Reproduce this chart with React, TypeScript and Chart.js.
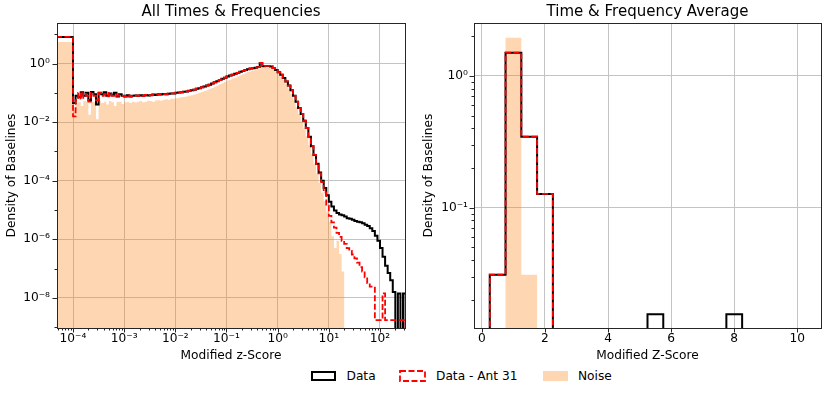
import React, { useEffect, useRef } from "react";
import { Chart, registerables } from "chart.js";

Chart.register(...registerables);

const FONT_FAMILY = "'DejaVu Sans', 'Noto Sans', sans-serif";
const BLACK = "#000000";
const RED = "#ff0000";
const NOISE_FILL = "rgba(255, 127, 14, 0.32)";
const GRID_COLOR = "#c4c4c4";
const SPINE_COLOR = "#262626";

const SERIES_NAMES = ["Data", "Data - Ant 31", "Noise"];
const LEFT_TITLE = "All Times & Frequencies";
const RIGHT_TITLE = "Time & Frequency Average";
const LEFT_X_LABEL = "Modified z-Score";
const RIGHT_X_LABEL = "Modified Z-Score";
const Y_LABEL = "Density of Baselines";

// ---------- Left panel: log-spaced histogram bins ----------
// first (wide) bin from 10^-4.5 to 10^-4, then bins of 0.05 decades from 10^-4 to 10^2.5
const LEFT_FIRST_EDGE_EXP = -4.5;
const LEFT_BIN_START_EXP = -4.0;
const LEFT_BIN_STEP_EXP = 0.05;
const LEFT_BIN_COUNT = 130;

// values are log10(density); null = empty bin
const leftDataLog10: (number | null)[] = [
  0.91,
  -1.35, -1.1, -1.15, -0.98, -1.1, -1.0, -1.25, -0.97, -1.05, -1.4,
  -1.0, -1.05, -0.98, -1.1, -1.02, -1.08, -1.0, -1.12, -1.05, -1.1,
  -1.12, -1.08, -1.12, -1.1, -1.09, -1.1, -1.08, -1.1, -1.07, -1.09,
  -1.08, -1.06, -1.07, -1.05, -1.06, -1.04, -1.05, -1.03, -1.02, -1.02,
  -1.0, -0.99, -0.98, -0.96, -0.95, -0.93, -0.91, -0.89, -0.86, -0.84,
  -0.81, -0.78, -0.75, -0.72, -0.68, -0.64, -0.6, -0.56, -0.52, -0.48,
  -0.44, -0.41, -0.38, -0.35, -0.32, -0.28, -0.25, -0.22, -0.19, -0.17,
  -0.16, -0.14, -0.12, 0.02, -0.09, -0.08, -0.08, -0.1, -0.15, -0.22,
  -0.3, -0.38, -0.49, -0.61, -0.75, -0.91, -1.1, -1.3, -1.52, -1.72,
  -1.95, -2.2, -2.5, -2.82, -3.12, -3.42, -3.72, -4.0, -4.25, -4.5,
  -4.72, -4.88, -5.02, -5.1, -5.15, -5.18, -5.22, -5.28, -5.3, -5.33,
  -5.38, -5.4, -5.42, -5.45, -5.5, -5.55, -5.62, -5.72, -5.88, -6.05,
  -6.3, -6.6, -6.9, -7.15, -7.4, -7.8, null, -7.85, null, -7.85,
];

const leftAntLog10: (number | null)[] = [
  0.91,
  -1.8, -1.25, -1.0, -1.2, -1.0, -1.1, -1.3, -1.0, -1.1, -1.25,
  -1.0, -1.1, -1.05, -1.12, -1.0, -1.1, -1.05, -1.1, -1.08, -1.1,
  -1.12, -1.08, -1.12, -1.1, -1.09, -1.1, -1.08, -1.1, -1.07, -1.09,
  -1.08, -1.06, -1.07, -1.05, -1.06, -1.04, -1.05, -1.03, -1.02, -1.02,
  -1.0, -0.99, -0.98, -0.96, -0.95, -0.93, -0.91, -0.89, -0.86, -0.84,
  -0.81, -0.78, -0.75, -0.72, -0.68, -0.64, -0.6, -0.56, -0.52, -0.48,
  -0.44, -0.41, -0.38, -0.35, -0.32, -0.28, -0.25, -0.22, -0.19, -0.17,
  -0.16, -0.14, -0.12, 0.02, -0.09, -0.08, -0.08, -0.1, -0.15, -0.22,
  -0.3, -0.38, -0.49, -0.61, -0.75, -0.91, -1.1, -1.3, -1.52, -1.72,
  -1.95, -2.2, -2.5, -2.82, -3.12, -3.42, -3.75, -4.05, -4.4, -4.85,
  -5.2, -5.42, -5.6, -5.78, -5.92, -6.05, -6.16, -6.3, -6.4, -6.52,
  -6.65, -6.8, -6.95, -7.1, -7.3, -7.5, -7.62, -7.62, -8.76, -8.76,
  -8.76, -7.85, -8.76, -8.76, -8.76, -8.76, -8.76, -8.76, -8.76, -8.76,
];

const leftNoiseLog10: (number | null)[] = [
  0.74,
  -1.6, -1.35, -1.3, -1.45, -1.28, -1.3, -1.75, -1.3, -1.32, -1.9,
  -1.28, -1.35, -1.3, -1.4, -1.28, -1.32, -1.45, -1.3, -1.3, -1.38,
  -1.32, -1.3, -1.35, -1.3, -1.33, -1.3, -1.28, -1.32, -1.3, -1.27,
  -1.28, -1.3, -1.26, -1.25, -1.27, -1.24, -1.22, -1.24, -1.2, -1.2,
  -1.18, -1.17, -1.15, -1.14, -1.12, -1.1, -1.08, -1.06, -1.03, -1.0,
  -0.97, -0.94, -0.91, -0.87, -0.83, -0.79, -0.75, -0.71, -0.67, -0.63,
  -0.58, -0.55, -0.51, -0.48, -0.44, -0.4, -0.36, -0.33, -0.29, -0.26,
  -0.24, -0.21, -0.19, -0.16, -0.14, -0.13, -0.13, -0.15, -0.2, -0.27,
  -0.36, -0.45, -0.57, -0.7, -0.86, -1.04, -1.25, -1.48, -1.72, -1.96,
  -2.22, -2.48, -2.78, -3.1, -3.42, -3.75, -4.08, -4.4, -4.7, -5.05,
  -5.4, -5.9, -6.3, -6.05, -6.5, -7.1, null, null, null, null,
  null, null, null, null, null, null, null, null, null, null,
  null, null, null, null, null, null, null, null, null, null,
];

// axis ranges (left)
const LEFT_X_MIN_EXP = -4.313;
const LEFT_X_MAX_EXP = 2.489;
const LEFT_Y_MIN_EXP = -9.03;
const LEFT_Y_MAX_EXP = 1.386;
const leftXMajorExps = [-4, -3, -2, -1, 0, 1, 2];
const leftYMajorExps = [0, -2, -4, -6, -8];
const leftYMinorExps = [1, -1, -3, -5, -7, -9];

// ---------- Right panel: linear bins of width 0.5 ----------
const rightBinCenters = [0.5, 1.0, 1.5, 2.0, 2.5, 3.0, 3.5, 4.0, 4.5, 5.0, 5.5, 6.0, 6.5, 7.0, 7.5, 8.0, 8.5, 9.0, 9.5, 10.0];
const RIGHT_BIN_WIDTH = 0.5;
const rightData: (number | null)[] = [0.031, 1.5, 0.345, 0.127, null, null, null, null, null, null, 0.0155, null, null, null, null, 0.0155, null, null, null, null];
const rightAnt: (number | null)[] = [0.031, 1.5, 0.345, 0.127, null, null, null, null, null, null, null, null, null, null, null, null, null, null, null, null];
const rightNoise: (number | null)[] = [null, 1.95, 0.031, null, null, null, null, null, null, null, null, null, null, null, null, null, null, null, null, null];

const RIGHT_X_MIN = -0.25;
const RIGHT_X_MAX = 10.75;
const RIGHT_Y_MIN = 0.0122;
const RIGHT_Y_MAX = 2.52;
const rightXTicks = [0, 2, 4, 6, 8, 10];
const rightYMajorExps = [0, -1];
const rightYMinorSubs = [2, 3, 4, 5, 6, 7, 8, 9];

// ---------- helpers ----------
const OFF_AXIS = 1e-15;
const SUP: Record<string, string> = { "-": "\u207b", "0": "\u2070", "1": "\u00b9", "2": "\u00b2", "3": "\u00b3", "4": "\u2074", "5": "\u2075", "6": "\u2076", "7": "\u2077", "8": "\u2078", "9": "\u2079" };
const decadeLabel = (v: number) => {
  const e = Math.round(Math.log10(v));
  return "10" + String(e).split("").map((c) => SUP[c]).join("");
};

function stepPoints(edges: number[], values: (number | null)[]) {
  const pts: { x: number; y: number }[] = [{ x: edges[0], y: OFF_AXIS }];
  values.forEach((v, i) => pts.push({ x: edges[i], y: v == null ? OFF_AXIS : v }));
  pts.push({ x: edges[edges.length - 1], y: OFF_AXIS });
  return pts;
}
const fromLog = (arr: (number | null)[]) => arr.map((v) => (v == null ? null : Math.pow(10, v)));

function leftEdges() {
  const e = [Math.pow(10, LEFT_FIRST_EDGE_EXP)];
  for (let i = 0; i <= LEFT_BIN_COUNT; i++) e.push(Math.pow(10, LEFT_BIN_START_EXP + i * LEFT_BIN_STEP_EXP));
  return e;
}
function rightEdges() {
  const e = rightBinCenters.map((c) => c - RIGHT_BIN_WIDTH / 2);
  e.push(rightBinCenters[rightBinCenters.length - 1] + RIGHT_BIN_WIDTH / 2);
  return e;
}

type T = { value: number; minor: boolean };
function logTicks(majorExps: number[], minorExps: number[], subs: number[], min: number, max: number): T[] {
  const t: T[] = majorExps.map((e) => ({ value: Math.pow(10, e), minor: false }));
  minorExps.forEach((e) => subs.forEach((s) => {
    const v = s * Math.pow(10, e);
    if (v >= min && v <= max) t.push({ value: v, minor: true });
  }));
  return t.sort((a, b) => a.value - b.value);
}

const font = (size: number) => ({ family: FONT_FAMILY, size, weight: "normal" as const });
const gridColor = (ctx: any) => (ctx.tick && ctx.tick.minor ? "rgba(0,0,0,0)" : GRID_COLOR);
const logLabel = (value: any, index: number, ticks: any[]) => (ticks[index] && ticks[index].minor ? "" : decadeLabel(Number(value)));

const axesDecor = {
  id: "axesDecor",
  afterDraw(chart: any) {
    const { ctx, chartArea: a, scales } = chart;
    ctx.save();
    ctx.strokeStyle = SPINE_COLOR;
    ctx.lineWidth = 1;
    ctx.beginPath();
    for (const t of scales.x.ticks) {
      const p = scales.x.getPixelForValue(t.value);
      if (p < a.left - 0.5 || p > a.right + 0.5) continue;
      const px = Math.round(p) + 0.5;
      ctx.moveTo(px, a.bottom);
      ctx.lineTo(px, a.bottom + (t.minor ? 2.5 : 4.5));
    }
    for (const t of scales.y.ticks) {
      const p = scales.y.getPixelForValue(t.value);
      if (p < a.top - 0.5 || p > a.bottom + 0.5) continue;
      const py = Math.round(p) + 0.5;
      ctx.moveTo(a.left, py);
      ctx.lineTo(a.left - (t.minor ? 2.5 : 4.5), py);
    }
    ctx.stroke();
    const l = Math.round(a.left) + 0.5, tp = Math.round(a.top) + 0.5;
    ctx.strokeRect(l, tp, Math.round(a.right) - Math.round(a.left), Math.round(a.bottom) - Math.round(a.top));
    ctx.restore();
  },
};

function datasets(edges: number[], data: (number | null)[], ant: (number | null)[], noise: (number | null)[]) {
  return [
    { label: SERIES_NAMES[1], data: stepPoints(edges, ant), stepped: true, borderColor: RED, borderWidth: 1.8, borderDash: [6, 2.5], fill: false, pointRadius: 0 },
    { label: SERIES_NAMES[0], data: stepPoints(edges, data), stepped: true, borderColor: BLACK, borderWidth: 2, fill: false, pointRadius: 0 },
    { label: SERIES_NAMES[2], data: stepPoints(edges, noise), stepped: true, borderColor: "rgba(0,0,0,0)", borderWidth: 1, backgroundColor: NOISE_FILL, fill: "start", pointRadius: 0 },
  ];
}

function baseOptions(title: string) {
  return {
    animation: false,
    responsive: false,
    maintainAspectRatio: false,
    layout: { padding: { left: 0, right: 10, top: 0, bottom: 0 } },
    plugins: {
      legend: { display: false },
      tooltip: { enabled: false },
      title: { display: true, text: title, color: BLACK, font: font(15), fullSize: false, padding: { top: 3, bottom: 2 } },
    },
    elements: { point: { radius: 0 }, line: { tension: 0 } },
  } as any;
}

function leftConfig(): any {
  const edges = leftEdges();
  const xMin = Math.pow(10, LEFT_X_MIN_EXP), xMax = Math.pow(10, LEFT_X_MAX_EXP);
  const yMin = Math.pow(10, LEFT_Y_MIN_EXP), yMax = Math.pow(10, LEFT_Y_MAX_EXP);
  const opts = baseOptions(LEFT_TITLE);
  opts.scales = {
    x: {
      type: "logarithmic", min: xMin, max: xMax, bounds: "data",
      afterBuildTicks: (s: any) => { s.ticks = logTicks(leftXMajorExps, [-5, -4, -3, -2, -1, 0, 1, 2], [2, 3, 4, 5, 6, 7, 8, 9], xMin, xMax); },
      afterFit: (s: any) => { s.height = 38; },
      ticks: { autoSkip: false, maxRotation: 0, minRotation: 0, padding: 4, color: BLACK, font: font(12.2), callback: logLabel },
      grid: { color: gridColor, lineWidth: 1, drawTicks: false },
      border: { display: false },
      title: { display: true, text: LEFT_X_LABEL, color: BLACK, font: font(12.2), padding: { top: 0, bottom: 3 } },
    },
    y: {
      type: "logarithmic", min: yMin, max: yMax, bounds: "data",
      afterBuildTicks: (s: any) => { s.ticks = logTicks(leftYMajorExps, leftYMinorExps, [1], yMin, yMax); },
      afterFit: (s: any) => { s.width = 57; },
      ticks: { autoSkip: false, padding: 7, color: BLACK, font: font(12.2), callback: logLabel },
      grid: { color: gridColor, lineWidth: 1, drawTicks: false },
      border: { display: false },
      title: { display: true, text: Y_LABEL, color: BLACK, font: font(12.2), padding: { top: 5, bottom: 0 } },
    },
  };
  return {
    type: "line",
    data: { datasets: datasets(edges, fromLog(leftDataLog10), fromLog(leftAntLog10), fromLog(leftNoiseLog10)) },
    options: opts,
    plugins: [axesDecor],
  };
}

function rightConfig(): any {
  const edges = rightEdges();
  const opts = baseOptions(RIGHT_TITLE);
  opts.scales = {
    x: {
      type: "linear", min: RIGHT_X_MIN, max: RIGHT_X_MAX, bounds: "data",
      afterBuildTicks: (s: any) => { s.ticks = rightXTicks.map((v) => ({ value: v, minor: false })); },
      afterFit: (s: any) => { s.height = 38; },
      ticks: { autoSkip: false, maxRotation: 0, minRotation: 0, padding: 4, color: BLACK, font: font(12.2), callback: (v: any) => String(v) },
      grid: { color: gridColor, lineWidth: 1, drawTicks: false },
      border: { display: false },
      title: { display: true, text: RIGHT_X_LABEL, color: BLACK, font: font(12.2), padding: { top: 0, bottom: 3 } },
    },
    y: {
      type: "logarithmic", min: RIGHT_Y_MIN, max: RIGHT_Y_MAX, bounds: "data",
      afterBuildTicks: (s: any) => { s.ticks = logTicks(rightYMajorExps, [-2, -1, 0], rightYMinorSubs, RIGHT_Y_MIN, RIGHT_Y_MAX); },
      afterFit: (s: any) => { s.width = 59; },
      ticks: { autoSkip: false, padding: 6, color: BLACK, font: font(12.2), callback: logLabel },
      grid: { color: gridColor, lineWidth: 1, drawTicks: false },
      border: { display: false },
      title: { display: true, text: Y_LABEL, color: BLACK, font: font(12.2), padding: { top: 7, bottom: 0 } },
    },
  };
  return {
    type: "line",
    data: { datasets: datasets(edges, rightData, rightAnt, rightNoise) },
    options: opts,
    plugins: [axesDecor],
  };
}

const textStyle = (left: number): React.CSSProperties => ({
  position: "absolute", left, top: 368, lineHeight: "16px", fontFamily: FONT_FAMILY, fontSize: "12.2px", color: BLACK, whiteSpace: "nowrap",
});

export default function App() {
  const leftRef = useRef<HTMLCanvasElement>(null);
  const rightRef = useRef<HTMLCanvasElement>(null);
  useEffect(() => {
    const l = new Chart(leftRef.current as HTMLCanvasElement, leftConfig());
    const r = new Chart(rightRef.current as HTMLCanvasElement, rightConfig());
    return () => { l.destroy(); r.destroy(); };
  }, []);
  return (
    <div style={{ position: "absolute", left: 0, top: 0, width: 831, height: 394, background: "#fff", overflow: "hidden" }}>
      <canvas ref={leftRef} width={415} height={366} style={{ position: "absolute", left: 0, top: 0 }} />
      <canvas ref={rightRef} width={416} height={366} style={{ position: "absolute", left: 415, top: 0 }} />
      <div style={{ position: "absolute", left: 311, top: 371, width: 25, height: 10, boxSizing: "border-box", border: "2px solid #000" }} />
      <span style={textStyle(346.5)}>{SERIES_NAMES[0]}</span>
      <svg width={27} height={12} style={{ position: "absolute", left: 399, top: 370 }}>
        <rect x={1} y={1} width={25} height={10} fill="none" stroke={RED} strokeWidth={1.8} strokeDasharray="6 2.5" />
      </svg>
      <span style={textStyle(436)}>{SERIES_NAMES[1]}</span>
      <div style={{ position: "absolute", left: 543, top: 371, width: 25, height: 10, background: NOISE_FILL }} />
      <span style={textStyle(578)}>{SERIES_NAMES[2]}</span>
    </div>
  );
}
